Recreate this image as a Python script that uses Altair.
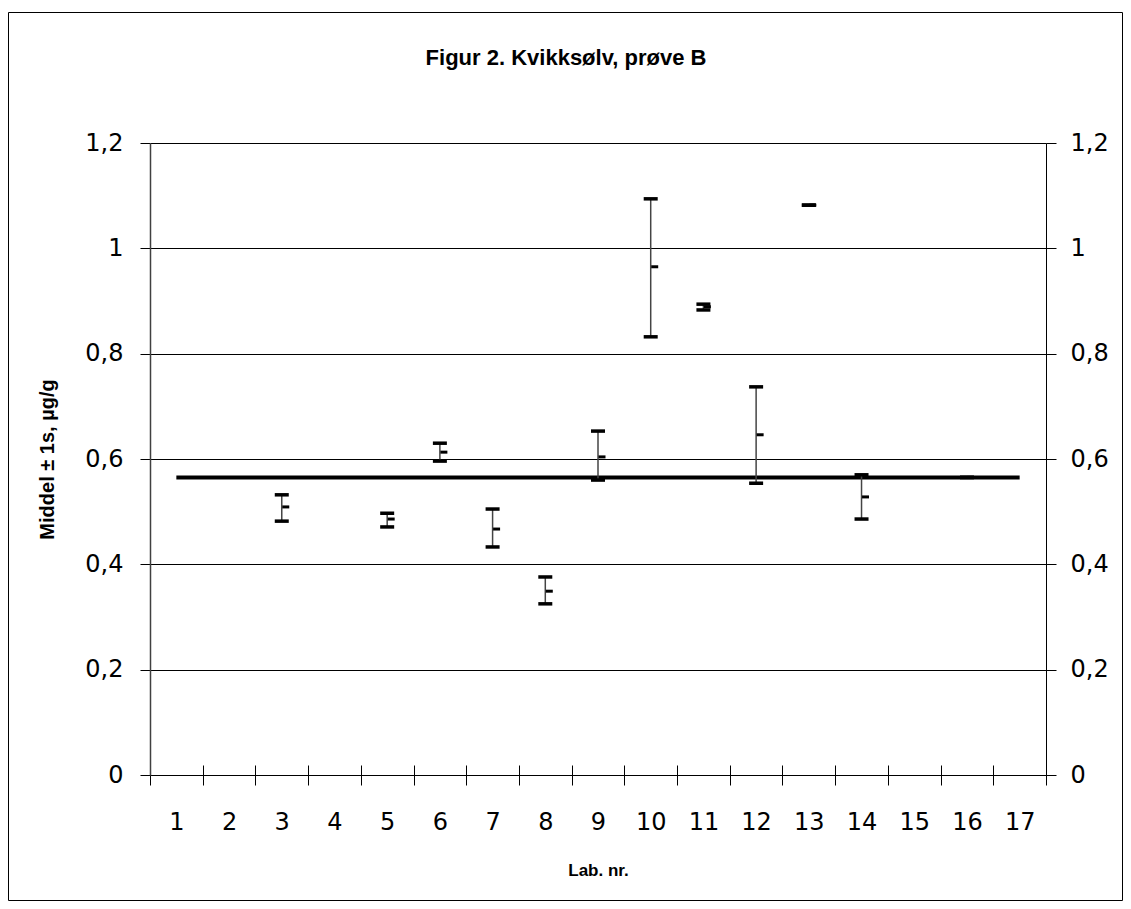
import altair as alt
import pandas as pd

# ---- data ----
all_labs = list(range(1, 18))
labs  = [3, 5, 6, 7, 8, 9, 10, 11, 12, 13, 14, 16]
means = [0.509, 0.486, 0.613, 0.467, 0.349, 0.604, 0.965, 0.889, 0.646, 1.082, 0.528, 0.565]
lows  = [0.482, 0.471, 0.596, 0.433, 0.325, 0.560, 0.832, 0.883, 0.554, 1.082, 0.486, 0.565]
highs = [0.532, 0.497, 0.630, 0.505, 0.376, 0.653, 1.094, 0.894, 0.737, 1.082, 0.570, 0.565]
ref_value = 0.565
y_ticks = [0, 0.2, 0.4, 0.6, 0.8, 1.0, 1.2]
title_text = ["Figur 2. Kvikksølv, prøve B"]

df = pd.DataFrame({"lab": labs, "mean": means, "low": lows, "high": highs})
ref_df = pd.DataFrame({"lab": all_labs, "v": [ref_value] * len(all_labs)})
one = pd.DataFrame({"t": title_text})

FONT = "Liberation Sans"
TICKFONT = "DejaVu Sans"
W, H = 896, 632
PL, PT, PR, PB = 142, 135, 77, 126

xscale = alt.Scale(domain=all_labs, paddingInner=0, paddingOuter=0)
yscale = alt.Scale(domain=[0, 1.2], nice=False, zero=True)
label_expr = "replace(format(datum.value, '~g'), '.', ',')"

x_main = alt.Axis(orient="bottom", tickBand="extent", tickSize=10, tickColor="#000000",
                  domainColor="#000000", domainWidth=1, labelAngle=0, labelFontSize=24,
                  labelFont=TICKFONT, labelColor="#000000", labelPadding=25, grid=False,
                  title="Lab. nr.", titleFont=FONT, titleFontSize=17, titleFontWeight="bold",
                  titleColor="#000000", titleX=W / 2, titleY=95, titleBaseline="middle")
x_inner = alt.Axis(orient="bottom", offset=-10, tickBand="extent", tickSize=10,
                   tickColor="#000000", domain=False, labels=False, grid=False, title=None)

y_left = alt.Axis(orient="left", values=y_ticks, labelExpr=label_expr, tickSize=10,
                  tickColor="#000000", domainColor="#404040", domainWidth=1.5,
                  grid=True, gridColor="#000000", gridWidth=1, gridOpacity=1,
                  labelFont=TICKFONT, labelFontSize=24, labelColor="#000000", labelPadding=17,
                  title="Middel ± 1s, µg/g", titleFont=FONT, titleFontSize=20,
                  titleFontWeight="bold", titleColor="#000000", titleAngle=270,
                  titleX=-103, titleY=H / 2, titleBaseline="middle", titleAlign="center")
y_right = alt.Axis(orient="right", values=y_ticks, labelExpr=label_expr, tickSize=10,
                   tickColor="#000000", domainColor="#000000", domainWidth=1, grid=False,
                   labelFont=TICKFONT, labelFontSize=24, labelColor="#000000", labelPadding=14,
                   title=None)

# reference line (carries left axis + main x axis)
ref_line = alt.Chart(ref_df).mark_line(color="#000000", strokeWidth=4, strokeCap="butt").encode(
    x=alt.X("lab:O", scale=xscale, axis=x_main),
    y=alt.Y("v:Q", scale=yscale, axis=y_left),
)
# invisible duplicate carrying the right axis and the inner tick halves
ref_axes = alt.Chart(ref_df).mark_line(opacity=0).encode(
    x=alt.X("lab:O", scale=xscale, axis=x_inner),
    y=alt.Y("v:Q", scale=yscale, axis=y_right),
)

bars = alt.Chart(df).mark_rule(color="#444444", strokeWidth=1.5).encode(
    x=alt.X("lab:O", scale=xscale, axis=None),
    y=alt.Y("low:Q", scale=yscale, axis=None),
    y2="high:Q",
)
cap_low = alt.Chart(df).mark_tick(color="#000000", size=14, thickness=3.5, opacity=1).encode(
    x=alt.X("lab:O", scale=xscale, axis=None),
    y=alt.Y("low:Q", scale=yscale, axis=None),
)
cap_high = alt.Chart(df).mark_tick(color="#000000", size=14, thickness=3.5, opacity=1).encode(
    x=alt.X("lab:O", scale=xscale, axis=None),
    y=alt.Y("high:Q", scale=yscale, axis=None),
)
mean_tick = alt.Chart(df).mark_tick(color="#000000", size=7, thickness=3, opacity=1, xOffset=4).encode(
    x=alt.X("lab:O", scale=xscale, axis=None),
    y=alt.Y("mean:Q", scale=yscale, axis=None),
)

# outer chart frame and title
border = alt.Chart(one).mark_rect(fill=None, stroke="#000000", strokeWidth=1).encode(
    x=alt.value(-PL + 0.5), x2=alt.value(W + PR - 0.5),
    y=alt.value(-PT + 4.5), y2=alt.value(H + PB - 0.5)
)
title = alt.Chart(one).mark_text(font=FONT, fontSize=22, fontWeight="bold", color="#000000",
                                 align="center", baseline="middle").encode(
    text="t:N", x=alt.value(416), y=alt.value(-85)
)

chart = alt.layer(ref_line, ref_axes, bars, cap_low, cap_high, mean_tick, border, title).resolve_axis(
    x="independent", y="independent"
).properties(
    width=W, height=H,
    padding={"left": PL, "top": PT, "right": PR, "bottom": PB},
    autosize=alt.AutoSizeParams(type="none"),
).configure_view(stroke=None).configure(background="#ffffff")

chart.save("out.html", embed_options={"renderer": "svg", "actions": False})
